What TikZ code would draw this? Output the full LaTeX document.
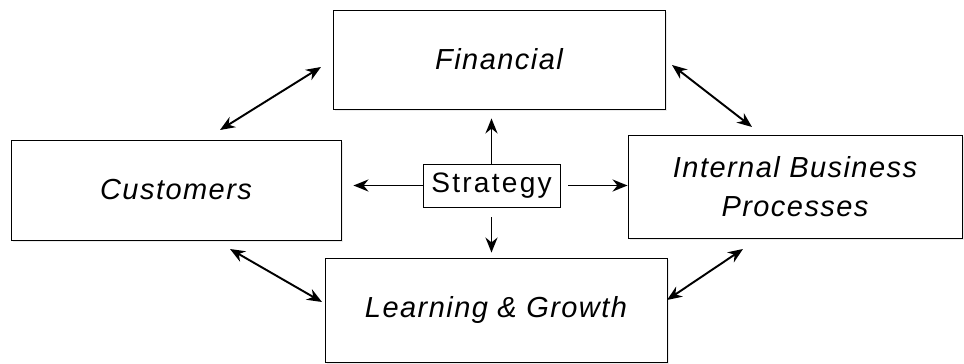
\documentclass[tikz,border=0pt]{standalone}
\usepackage{fontspec}
\setmainfont{Liberation Sans}
\newfontfamily\boxfont[LetterSpace=5]{Liberation Sans}
\newfontfamily\stratfont[LetterSpace=8]{Liberation Sans}
\usetikzlibrary{arrows.meta,shadows}

\begin{document}
\begin{tikzpicture}[
	persp/.style={draw, line width=0.5pt, fill=white, inner sep=0pt,
		drop shadow={shadow xshift=1.2pt, shadow yshift=-1.2pt, fill=black!8, opacity=1},
		font=\boxfont\itshape\fontsize{16.5}{22}\selectfont, align=center},
	stratbox/.style={draw, line width=0.45pt, fill=white, inner sep=0pt,
		font=\stratfont\fontsize{16}{18}\selectfont},
	arr/.style={line width=1.1pt, -{Stealth[length=3mm, width=2.4mm]}},
	dblarr/.style={line width=1.1pt, {Stealth[length=3mm, width=2.4mm]}-{Stealth[length=3mm, width=2.4mm]}}
	]
	\useasboundingbox (0,0) rectangle (19.28,-7.28);

	% Draw the boxes
	\node[persp, minimum width=6.64cm, minimum height=1.98cm] (fin) at (9.98,-1.19) {Financial};
	\node[persp, minimum width=6.60cm, minimum height=2.00cm] (cus) at (3.52,-3.80) {Customers};
	\node[persp, minimum width=6.68cm, minimum height=2.06cm] (ibp) at (15.90,-3.73) {Internal Business\\Processes};
	\node[persp, minimum width=6.84cm, minimum height=2.08cm] (lg) at (9.92,-6.20) {Learning \& Growth};

	\node[stratbox, minimum width=2.74cm, minimum height=0.86cm] (str) at (9.83,-3.71) {Strategy};

	% Draw the arrows leaving the strategy
	\draw[arr] (str.north) -- (str.north |- fin.south) [shorten >=0.18cm];
	\draw[arr] (str.south) -- (str.south |- lg.north) [shorten <=0.2cm, shorten >=0.1cm];
	\draw[arr] (str.west) -- (str.west -| cus.east) [shorten >=0.24cm];
	\draw[arr] (str.east) -- (str.east -| ibp.west) [shorten <=0.16cm];

	% Ends of the links between the perspectives
	\coordinate (fc1) at (6.42,-1.34);
	\coordinate (fc2) at (4.40,-2.60);
	\coordinate (fi1) at (13.44,-1.30);
	\coordinate (fi2) at (15.04,-2.54);
	\coordinate (cl1) at (4.60,-4.98);
	\coordinate (cl2) at (6.44,-6.04);
	\coordinate (il1) at (14.86,-4.98);
	\coordinate (il2) at (13.34,-6.00);

	% Draw the links between the perspectives
	\draw[dblarr] (fc1) -- (fc2);
	\draw[dblarr] (fi1) -- (fi2);
	\draw[dblarr] (cl1) -- (cl2);
	\draw[dblarr] (il1) -- (il2);

\end{tikzpicture}
\end{document}
